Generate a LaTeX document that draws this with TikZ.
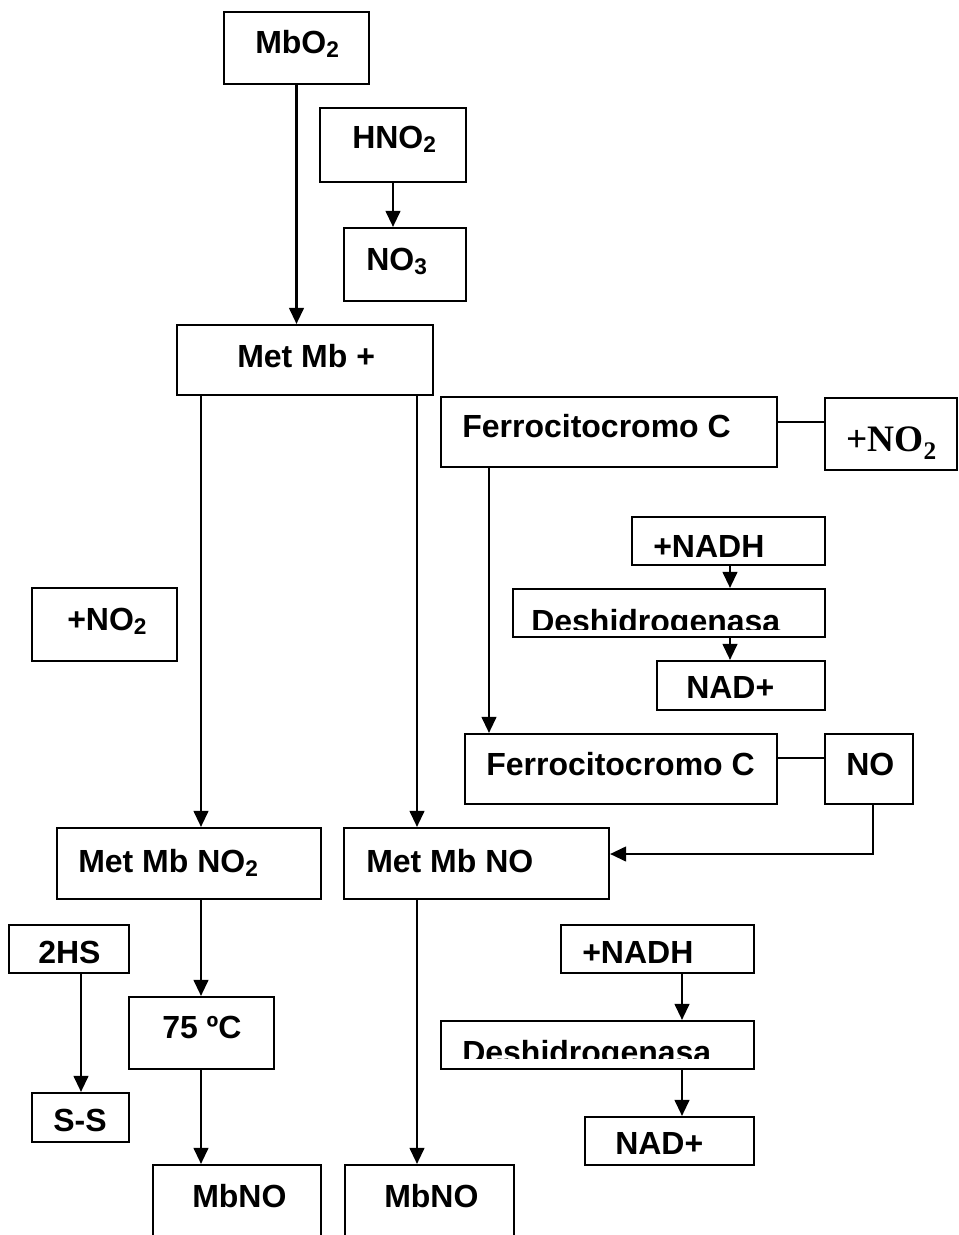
\documentclass[tikz,border=0pt]{standalone}
\usepackage{fontspec}
\setmainfont{Liberation Sans}
\newfontfamily\timesfont{Liberation Serif}
\usetikzlibrary{arrows.meta,fit}
\newcommand\chemsub[1]{\raisebox{-0.14em}{\fontsize{17}{17}\selectfont #1}}
\tikzset{
  box/.style={draw,line width=1.6pt,inner sep=0pt},
  lbl/.style={anchor=base west,inner sep=0pt,font=\fontsize{24}{28}\selectfont\bfseries},
  flow/.style={line width=1.6pt,-{Triangle[length=12pt,width=11pt]}},
  tie/.style={line width=1.1pt}
}
\begin{document}
\begin{tikzpicture}[x=0.75pt,y=-0.75pt]
\clip (0,0) rectangle (959,1235);
% rails
\coordinate (xA) at (201,0);
\coordinate (xB) at (417,0);
\coordinate (xC) at (489,0);
\coordinate (xD) at (730,0);
\coordinate (xE) at (682,0);
\coordinate (xF) at (873,0);
\coordinate (xG) at (81,0);
\coordinate (yA) at (0,422);
\coordinate (yB) at (0,758);
\coordinate (yC) at (0,854);
% boxes
\node[box,fit={(224,12) (369,84)}] (mbo2) {};
\node[lbl] (mbo2t) at (255,53) {MbO\chemsub{2}};
\node[box,fit={(320,108) (466,182)}] (hno2) {};
\node[lbl] (hno2t) at (352,148) {HNO\chemsub{2}};
\node[box,fit={(344,228) (466,301)}] (no3) {};
\node[lbl] (no3t) at (366,270) {NO\chemsub{3}};
\node[box,fit={(177,325) (433,395)}] (metmb) {};
\node[lbl] (metmbt) at (237,367) {Met Mb +};
\node[box,fit={(32,588) (177,661)}] (addnoA) {};
\node[lbl] (addnoAt) at (67,630) {+NO\chemsub{2}};
\node[box,fit={(441,397) (777,467)}] (ferroA) {};
\node[lbl] (ferroAt) at (462,437) {Ferrocitocromo C};
\node[box,fit={(825,398) (957,470)}] (addnoB) {};
\node[lbl,font=\fontsize{28}{30}\timesfont\bfseries] (addnoBt) at (846,451)
  {+NO\raisebox{-0.22em}{\fontsize{19}{19}\selectfont 2}};
\node[box,fit={(632,517) (825,565)}] (nadhA) {};
\node[lbl] (nadhAt) at (653,557) {+NADH};
\node[box,fit={(513,589) (825,637)}] (deshA) {};
\begin{scope}
\clip (513,589) rectangle (825,629);
\node[lbl] (deshAt) at (531,632) {Deshidrogenasa};
\end{scope}
\node[box,fit={(657,661) (825,710)}] (nadA) {};
\node[lbl] (nadAt) at (686,698) {NAD+};
\node[box,fit={(465,734) (777,804)}] (ferroB) {};
\node[lbl] (ferroBt) at (486,775) {Ferrocitocromo C};
\node[box,fit={(825,734) (913,804)}] (no) {};
\node[lbl] (not) at (846,775) {NO};
\node[box,fit={(57,828) (321,899)}] (metno2) {};
\node[lbl] (metno2t) at (78,872) {Met Mb NO\chemsub{2}};
\node[box,fit={(344,828) (609,899)}] (metno) {};
\node[lbl] (metnot) at (366,872) {Met Mb NO};
\node[box,fit={(9,925) (129,973)}] (hs) {};
\node[lbl] (hst) at (38,963) {2HS};
\node[box,fit={(32,1093) (129,1142)}] (ss) {};
\node[lbl] (sst) at (53,1131) {S-S};
\node[box,fit={(129,997) (274,1069)}] (temp) {};
\node[lbl] (tempt) at (162,1038) {75 ºC};
\node[box,fit={(153,1165) (321,1260)}] (mbnoA) {};
\node[lbl] (mbnoAt) at (192,1207) {MbNO};
\node[box,fit={(345,1165) (514,1260)}] (mbnoB) {};
\node[lbl] (mbnoBt) at (384,1207) {MbNO};
\node[box,fit={(561,925) (754,973)}] (nadhB) {};
\node[lbl] (nadhBt) at (582,963) {+NADH};
\node[box,fit={(441,1021) (754,1069)}] (deshB) {};
\begin{scope}
\clip (441,1021) rectangle (754,1058);
\node[lbl] (deshBt) at (462,1063) {Deshidrogenasa};
\end{scope}
\node[box,fit={(585,1117) (754,1165)}] (nadB) {};
\node[lbl] (nadBt) at (615,1154) {NAD+};
% connectors
\draw[flow] (mbo2.south) -- (mbo2.south |- metmb.north);
\draw[flow] (hno2.south) -- (hno2.south |- no3.north);
\draw[flow] (metmb.south -| xA) -- (metno2.north -| xA);
\draw[flow] (metmb.south -| xB) -- (metno.north -| xB);
\draw[tie] (ferroA.east |- yA) -- (addnoB.west |- yA);
\draw[flow] (ferroA.south -| xC) -- (ferroB.north -| xC);
\draw[flow] (nadhA.south -| xD) -- (deshA.north -| xD);
\draw[flow] (deshA.south -| xD) -- (nadA.north -| xD);
\draw[tie] (ferroB.east |- yB) -- (no.west |- yB);
\draw[flow] (no.south -| xF) |- (metno.east |- yC);
\draw[flow] (metno2.south -| xA) -- (temp.north -| xA);
\draw[flow] (hs.south -| xG) -- (ss.north -| xG);
\draw[flow] (temp.south -| xA) -- (mbnoA.north -| xA);
\draw[flow] (metno.south -| xB) -- (mbnoB.north -| xB);
\draw[flow] (nadhB.south -| xE) -- (deshB.north -| xE);
\draw[flow] (deshB.south -| xE) -- (nadB.north -| xE);
\end{tikzpicture}
\end{document}
